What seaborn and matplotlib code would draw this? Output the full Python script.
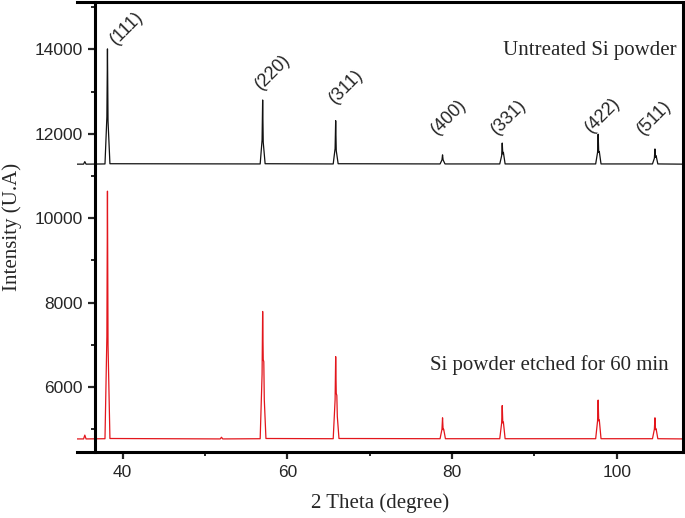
import pandas as pd
import matplotlib.pyplot as plt
from matplotlib.ticker import MultipleLocator
import seaborn as sns

# XRD 패턴 데이터
# 미처리 Si 분말
two_theta_untreated = [34.45, 35.25, 35.4, 35.55,
                       37.85, 38.08, 38.15, 38.22, 38.45,
                       56.7, 56.93, 57.0, 57.07, 57.3,
                       65.57, 65.8, 65.87, 65.94, 66.17,
                       78.55, 78.78, 78.85, 78.92, 79.15,
                       85.8, 86.03, 86.1, 86.17, 86.24, 86.45,
                       97.45, 97.68, 97.75, 97.82, 97.89, 98.1,
                       104.35, 104.58, 104.65, 104.72, 104.79, 105.0,
                       108.05]
intensity_untreated = [11280, 11280, 11340, 11280,
                       11285, 12400, 14010, 12300, 11290,
                       11285, 11850, 12800, 11800, 11290,
                       11285, 11650, 12310, 11600, 11290,
                       11285, 11380, 11500, 11380, 11285,
                       11285, 11480, 11780, 11520, 11560, 11285,
                       11285, 11560, 11990, 11560, 11580, 11285,
                       11285, 11420, 11640, 11440, 11480, 11285,
                       11280]

# 60분 에칭한 Si 분말
two_theta_etched = [34.45, 35.25, 35.4, 35.55,
                    37.85, 38.08, 38.15, 38.22, 38.45,
                    51.85, 52.0, 52.15,
                    56.7, 56.93, 57.0, 57.07, 57.14, 57.2, 57.4,
                    65.57, 65.8, 65.87, 65.94, 66.01, 66.07, 66.27,
                    78.55, 78.78, 78.85, 78.92, 78.99, 79.2,
                    85.8, 86.03, 86.1, 86.17, 86.24, 86.45,
                    97.45, 97.68, 97.75, 97.82, 97.89, 98.1,
                    104.35, 104.58, 104.65, 104.72, 104.79, 105.0,
                    108.05]
intensity_etched = [4770, 4770, 4860, 4770,
                    4775, 7200, 10640, 7000, 4780,
                    4770, 4810, 4770,
                    4775, 6300, 7790, 6650, 6600, 5700, 4780,
                    4775, 5700, 6720, 5850, 5800, 5300, 4780,
                    4775, 5000, 5270, 4990, 5000, 4775,
                    4775, 5150, 5560, 5150, 5170, 4775,
                    4775, 5200, 5690, 5200, 5220, 4775,
                    4775, 5000, 5270, 4990, 5010, 4775,
                    4770]

# 피크 지수와 위치
peak_labels = ['(111)', '(220)', '(311)', '(400)', '(331)', '(422)', '(511)']
peak_positions = [38.15, 57.0, 65.87, 78.85, 86.1, 97.75, 104.65]
peak_heights = [14010, 12800, 12310, 11500, 11780, 11990, 11640]

# 라벨 위치 보정 (points)
label_offsets = [(-0.5, 1.0), (-7.5, 5), (-7, 10), (-10.5, 12), (-10.5, 3.5), (-11.5, -1.5), (-15, 8)]

df = pd.concat([
    pd.DataFrame({'two_theta': two_theta_untreated, 'intensity': intensity_untreated, 'sample': 'untreated'}),
    pd.DataFrame({'two_theta': two_theta_etched, 'intensity': intensity_etched, 'sample': 'etched'}),
], ignore_index=True)

sns.set_style('ticks')
plt.rcParams['font.family'] = ['Liberation Sans', 'DejaVu Sans']

fig, ax = plt.subplots(figsize=(6.85, 5.18), dpi=100)
fig.subplots_adjust(left=0.1124, right=0.997, bottom=0.1274, top=0.996)

sns.lineplot(data=df, x='two_theta', y='intensity', hue='sample',
             palette={'untreated': '#111111', 'etched': '#e3161c'},
             estimator=None, sort=False, linewidth=0.9, legend=False, ax=ax)

ax.set_xlim(34.45, 108.05)
ax.set_ylim(4460, 15120)

# 축 스타일
ax.spines['left'].set_position(('data', 36.64))
for s in ax.spines.values():
    s.set_linewidth(2.2)
    s.set_color('black')

ax.xaxis.set_major_locator(MultipleLocator(20))
ax.xaxis.set_minor_locator(MultipleLocator(10))
ax.yaxis.set_major_locator(MultipleLocator(2000))
ax.yaxis.set_minor_locator(MultipleLocator(1000))
ax.tick_params(which='major', direction='out', length=5, width=1.6, labelsize=12.5,
               top=False, right=False, pad=4)
ax.tick_params(which='minor', direction='out', length=3, width=1.4, top=False, right=False)

ax.set_xlabel('2 Theta (degree)', family='Liberation Serif', fontsize=15)
ax.set_ylabel('Intensity (U.A)', family='Liberation Serif', fontsize=15)
ax.xaxis.set_label_coords(0.5, -0.091)
ax.yaxis.set_label_coords(-0.09, 0.5)

for lab, px, py, off in zip(peak_labels, peak_positions, peak_heights, label_offsets):
    ax.annotate(lab, (px, py), xytext=off, textcoords='offset points',
                ha='left', va='bottom', rotation=45, fontsize=13)

ax.text(107.3, 13860, 'Untreated Si powder', ha='right', va='baseline',
        family='Liberation Serif', fontsize=15)
ax.text(106.35, 6400, 'Si powder etched for 60 min', ha='right', va='baseline',
        family='Liberation Serif', fontsize=15)

fig.savefig('out.png', dpi=100)
